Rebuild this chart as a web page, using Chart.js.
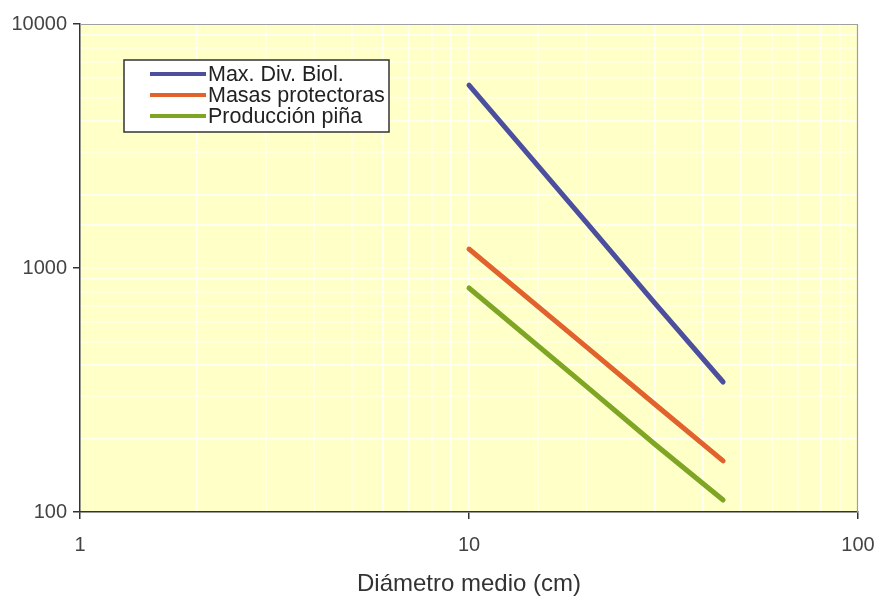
<!DOCTYPE html>
<html>
<head>
<meta charset="utf-8">
<script src="https://cdn.jsdelivr.net/npm/chart.js@4"></script>
<style>
    html, body { margin: 0; padding: 0; background: #fff; }
    #wrap { width: 878px; height: 599px; position: relative; }
</style>
</head>
<body>
<div id="wrap"><canvas id="diamChart"></canvas></div>
<script>
// valores (escala log-log)
const diametros = [10, 20, 30, 45];
const maxDivBiol = [5620, 1540, 720, 341];
const masasProtectoras = [1196, 476, 277, 162];
const produccionPina = [828, 328, 190, 112];

const seriesNames = ['Max. Div. Biol.', 'Masas protectoras', 'Producción piña'];
const seriesColors = ['#4C4E9E', '#E2622E', '#7EA624'];
const xTitle = 'Diámetro medio (cm)';

const FONT = "'Liberation Sans', Arial, sans-serif";

const toPoints = (vals) => diametros.map((d, i) => ({ x: d, y: vals[i] }));
const isDecade = (v) => Math.abs(Math.log10(v) - Math.round(Math.log10(v))) < 1e-9;

// fondo amarillo + borde superior/derecho
const plotBg = {
    id: 'plotBg',
    beforeDraw(chart) {
        const { ctx, chartArea: a } = chart;
        ctx.save();
        ctx.fillStyle = '#FFFFC8';
        ctx.fillRect(a.left, a.top, a.right - a.left, a.bottom - a.top);
        ctx.restore();
    },
    beforeDatasetsDraw(chart) {
        const { ctx, chartArea: a } = chart;
        ctx.save();
        ctx.strokeStyle = '#a0a0a0';
        ctx.lineWidth = 1.2;
        ctx.beginPath();
        ctx.moveTo(a.left, a.top + 0.5);
        ctx.lineTo(a.right - 0.5, a.top + 0.5);
        ctx.lineTo(a.right - 0.5, a.bottom);
        ctx.stroke();
        ctx.restore();
    }
};

// leyenda con recuadro dentro del area
const boxLegend = {
    id: 'boxLegend',
    afterDraw(chart) {
        const { ctx } = chart;
        ctx.save();
        ctx.fillStyle = '#fff';
        ctx.fillRect(124, 60, 265, 72);
        ctx.strokeStyle = '#333';
        ctx.lineWidth = 1.5;
        ctx.strokeRect(124, 60, 265, 72);
        ctx.font = '21.5px ' + FONT;
        ctx.textBaseline = 'middle';
        chart.data.datasets.forEach((ds, i) => {
            const y = 74 + i * 21;
            ctx.strokeStyle = ds.borderColor;
            ctx.lineWidth = 4;
            ctx.beginPath();
            ctx.moveTo(150, y);
            ctx.lineTo(206, y);
            ctx.stroke();
            ctx.fillStyle = '#222';
            ctx.fillText(ds.label, 208, y + 1);
        });
        ctx.restore();
    }
};

const dataSets = [maxDivBiol, masasProtectoras, produccionPina].map((vals, i) => ({
    label: seriesNames[i],
    data: toPoints(vals),
    borderColor: seriesColors[i],
    backgroundColor: seriesColors[i],
    borderWidth: 5,
    borderCapStyle: 'round',
    borderJoinStyle: 'round',
    pointRadius: 0,
    showLine: true,
    tension: 0
}));

const gridOpts = {
    color: 'rgba(255,255,255,0.75)',
    lineWidth: 1.5,
    tickLength: 7,
    tickColor: (c) => (c.tick && isDecade(c.tick.value)) ? '#333' : 'rgba(0,0,0,0)',
    tickWidth: 1.5
};

new Chart(document.getElementById('diamChart'), {
    type: 'scatter',
    data: { datasets: dataSets },
    options: {
        responsive: true,
        maintainAspectRatio: false,
        animation: false,
        layout: { padding: { left: 0, right: 20, top: 24, bottom: 0 } },
        plugins: {
            legend: { display: false },
            tooltip: { enabled: false }
        },
        scales: {
            x: {
                type: 'logarithmic',
                min: 1,
                max: 100,
                border: { color: '#333', width: 1.5 },
                grid: gridOpts,
                ticks: {
                    autoSkip: false,
                    maxRotation: 0,
                    padding: 14,
                    color: '#444',
                    font: { family: FONT, size: 20 },
                    callback: (v) => isDecade(v) ? String(v) : ''
                },
                title: {
                    display: true,
                    text: xTitle,
                    color: '#333',
                    font: { family: FONT, size: 24 },
                    padding: { top: 0, bottom: 0 }
                },
                afterFit: (s) => { s.height = 87; s.paddingRight = 0; s.paddingLeft = 0; }
            },
            y: {
                type: 'logarithmic',
                min: 100,
                max: 10000,
                border: { color: '#333', width: 1.5 },
                grid: gridOpts,
                ticks: {
                    autoSkip: false,
                    padding: 6,
                    color: '#444',
                    font: { family: FONT, size: 20 },
                    callback: (v) => isDecade(v) ? String(v) : ''
                },
                afterFit: (s) => { s.width = 80; }
            }
        }
    },
    plugins: [plotBg, boxLegend]
});
</script>
</body>
</html>
